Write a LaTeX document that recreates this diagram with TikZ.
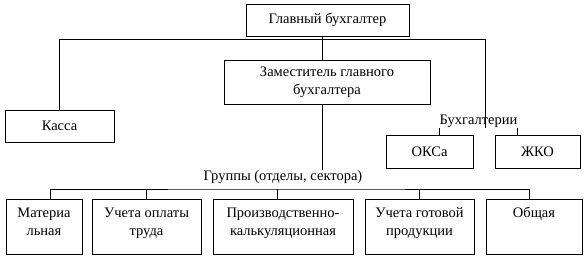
\documentclass[tikz,border=0pt]{standalone}
\usepackage{fontspec}
\setmainfont{Liberation Serif}
\usetikzlibrary{positioning,calc}

% текст сверху блока
\newcommand{\verhtekst}[1]{\begin{tabular}[t]{@{}c@{}}#1\end{tabular}}

\tikzset{
  blok/.style={draw, inner sep=0pt, align=center},
  gruppa/.style={blok, anchor=north, text height=18pt, text depth=37pt},
}

\begin{document}
\begin{tikzpicture}[x=1pt, y=-1pt, line width=0.8pt, font=\fontsize{14.5}{18}\selectfont]
        % Поле рисунка
        \useasboundingbox (0,0) rectangle (586,256);

        % Главный бухгалтер и заместитель
        \node[blok, minimum width=163pt, minimum height=32pt] (glav) at (327.5,20) {Главный бухгалтер};
        \node[blok, minimum width=206pt, minimum height=44pt] (zam) at (327,82) {Заместитель главного\\бухгалтера};

        % Касса
        \node[blok, minimum width=109pt, minimum height=32pt] (kassa) at (59.5,126) {Касса};

        % Бухгалтерии
        \node[inner sep=0pt] (buh) at (478.5,121) {Бухгалтерии};
        \node[blok, minimum width=87pt, minimum height=33pt] (oksa) at (429.5,151.5) {ОКСа};
        \node[blok, minimum width=85pt, minimum height=33pt] (zhko) at (537.5,151.5) {ЖКО};

        % Группы
        \node[inner sep=0pt] (gruppy) at (283,177) {Группы (отделы, сектора)};
        \node[gruppa, minimum width=76pt] (g1) at (44,199) {\verhtekst{Материа\\льная}};
        \node[gruppa, minimum width=109pt] (g2) at (146.5,199) {\verhtekst{Учета оплаты\\труда}};
        \node[gruppa, minimum width=140pt] (g3) at (283,199) {\verhtekst{Производственно-\\калькуляционная}};
        \node[gruppa, minimum width=109pt] (g4) at (419.5,199) {\verhtekst{Учета готовой\\продукции}};
        \node[gruppa, minimum width=96pt] (g5) at (534,199) {\verhtekst{Общая}};

        % Соединения
        \coordinate (uzel) at (322,39);
        \coordinate (buhv) at (485,39);
        \coordinate (shina) at (283,189);
        \draw (glav.south -| uzel) -- (zam.north -| uzel);
        \draw (kassa.north) |- (buhv) -- (buhv |- buh.south);
        \draw (zam.south -| uzel) -- (gruppy.north -| uzel);
        \draw (buh.south west) -- (buh.south west |- oksa.north);
        \draw (buh.south east) -- (buh.south east |- zhko.north);
        \draw ($(g1.north)+(6,0)$) |- (shina) -| ($(g5.north)+(-5,0)$);
        \foreach \g/\dx in {g2/0,g3/-6,g4/0}
            \draw ($(\g.north)+(\dx,0)$) -- ($(\g.north |- shina)+(\dx,0)$);
    \end{tikzpicture}
\end{document}
